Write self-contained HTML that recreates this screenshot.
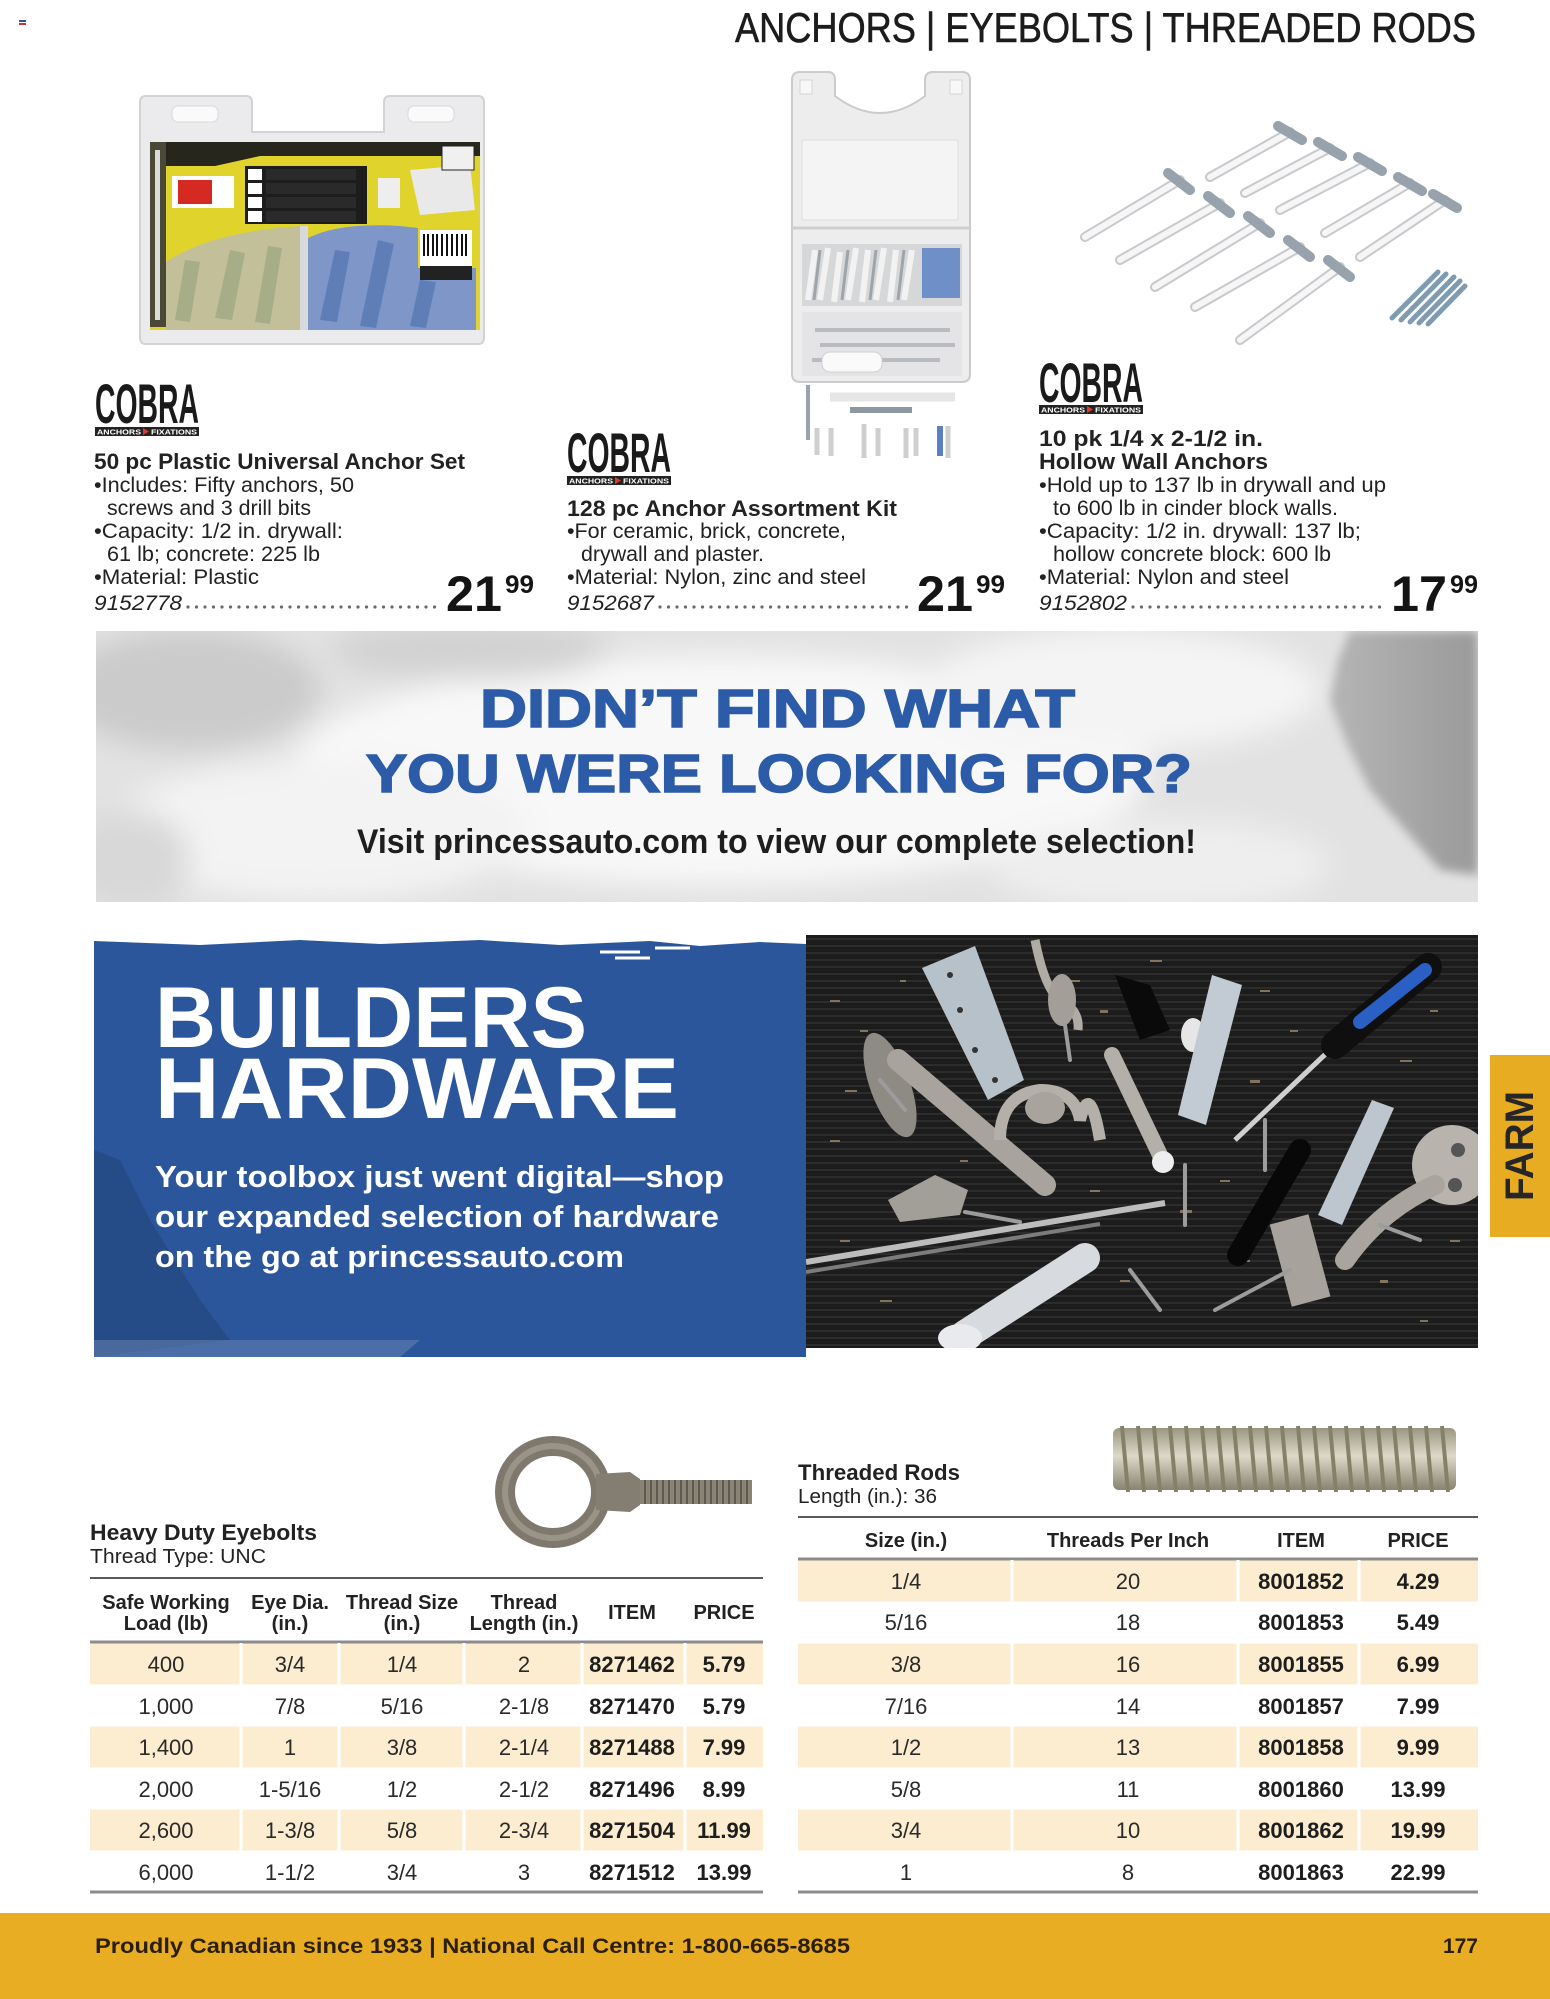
<!DOCTYPE html>
<html><head><meta charset="utf-8">
<style>
html,body{margin:0;padding:0;background:#fff;width:1550px;height:1999px;overflow:hidden}
svg{display:block}
text{font-family:"Liberation Sans",Arial,sans-serif}
</style></head><body>
<svg xmlns="http://www.w3.org/2000/svg" width="1550" height="1999" viewBox="0 0 1550 1999">
<defs>
 <filter id="bl" x="-30%" y="-30%" width="160%" height="160%"><feGaussianBlur stdDeviation="14"/></filter>
 <filter id="bl2" x="-30%" y="-30%" width="160%" height="160%"><feGaussianBlur stdDeviation="5"/></filter>
 <pattern id="rib" width="10" height="7" patternUnits="userSpaceOnUse"><rect width="10" height="7" fill="#1c1c1c"/><rect y="0" width="10" height="2" fill="#2c2c2c"/></pattern>
 <clipPath id="bannerClip"><rect x="96" y="631" width="1382" height="271"/></clipPath>
 <clipPath id="photoClip"><rect x="806" y="935" width="672" height="413"/></clipPath>
 <linearGradient id="rodg" x1="0" y1="0" x2="0" y2="1"><stop offset="0" stop-color="#9a9680"/><stop offset="0.45" stop-color="#dcd9c9"/><stop offset="1" stop-color="#878470"/></linearGradient>
 <linearGradient id="bannerDark" x1="0" y1="0" x2="1" y2="0"><stop offset="0" stop-color="#b5b5b5"/><stop offset="1" stop-color="#9a9a9a"/></linearGradient>
</defs>

<!-- tiny marks -->
<rect x="19" y="20" width="7" height="2" fill="#3050c0"/>
<rect x="19" y="23" width="7" height="2" fill="#d03030"/>

<!-- Header -->
<text x="735" y="42" font-size="42" textLength="741" lengthAdjust="spacingAndGlyphs" fill="#1c1c1c" stroke="#1c1c1c" stroke-width="0.6">ANCHORS | EYEBOLTS | THREADED RODS</text>

<!-- ===== Left package ===== -->
<g>
 <path d="M140 102 Q140 96 146 96 H246 Q252 96 252 102 V132 H384 V102 Q384 96 390 96 H478 Q484 96 484 102 V338 Q484 344 478 344 H146 Q140 344 140 338 Z" fill="#ebebed" stroke="#d3d3d6" stroke-width="2"/>
 <rect x="172" y="106" width="46" height="16" rx="6" fill="#fafafa" stroke="#d8d8d8"/>
 <rect x="408" y="106" width="46" height="16" rx="6" fill="#fafafa" stroke="#d8d8d8"/>
 <rect x="150" y="142" width="330" height="188" fill="#e0d42c"/>
 <path d="M150 142 H480 V156 H260 L215 166 H150 Z" fill="#26261c"/>
 <rect x="150" y="142" width="16" height="185" fill="#4a4936"/>
 <rect x="155" y="150" width="5" height="170" fill="#d9d9d9"/>
 <rect x="245" y="166" width="122" height="58" fill="#1d1d1d"/>
 <rect x="248" y="169" width="14" height="11" fill="#fff"/>
 <rect x="248" y="183" width="14" height="11" fill="#fff"/>
 <rect x="248" y="197" width="14" height="11" fill="#fff"/>
 <rect x="248" y="211" width="14" height="11" fill="#fff"/>
 <rect x="266" y="169" width="90" height="11" fill="#2a2a2a"/>
 <rect x="266" y="183" width="90" height="11" fill="#2a2a2a"/>
 <rect x="266" y="197" width="90" height="11" fill="#2a2a2a"/>
 <rect x="266" y="211" width="90" height="11" fill="#2a2a2a"/>
 <rect x="172" y="176" width="62" height="32" fill="#fff"/>
 <rect x="178" y="180" width="34" height="24" fill="#d42a22"/>
 <rect x="378" y="178" width="22" height="30" fill="#eee"/>
 <path d="M410 170 L470 165 L475 210 L420 215 Z" fill="#e9e9e9"/>
 <rect x="442" y="146" width="32" height="24" fill="#f0f0f0" stroke="#222"/>
 <path d="M166 330 V262 Q210 232 300 226 V330 Z" fill="#c3c099"/>
 <path d="M175 320 L185 260 L200 262 L190 322 Z M215 318 L230 250 L245 253 L232 320 Z M255 322 L268 246 L282 248 L270 324 Z" fill="#a7ad86"/>
 <rect x="300" y="226" width="8" height="104" fill="#d7d9dc"/>
 <path d="M308 330 V238 Q340 222 400 226 L418 228 V268 H476 V330 Z" fill="#7e97c8"/>
 <path d="M320 320 L335 250 L350 252 L337 322 Z M360 326 L378 240 L394 244 L376 328 Z M410 326 L420 280 L436 282 L426 328 Z" fill="#5f7eb8"/>
 <rect x="420" y="230" width="52" height="36" fill="#fff"/>
 <path d="M424 234 V256 M428 234 V256 M433 234 V256 M437 234 V256 M442 234 V256 M447 234 V256 M452 234 V256 M457 234 V256 M462 234 V256 M466 234 V256" stroke="#111" stroke-width="2"/>
 <rect x="420" y="266" width="52" height="14" fill="#222"/>
</g>

<!-- ===== Middle case ===== -->
<g>
 <path d="M792 80 Q792 72 800 72 H828 Q835 72 835 80 V96 Q880 130 925 96 V80 Q925 72 933 72 H962 Q970 72 970 80 V374 Q970 382 962 382 H800 Q792 382 792 374 Z" fill="#ededee" stroke="#cbcbcd" stroke-width="2"/>
 <rect x="800" y="80" width="12" height="14" fill="#f8f8f8" stroke="#d5d5d5"/>
 <rect x="950" y="80" width="12" height="14" fill="#f8f8f8" stroke="#d5d5d5"/>
 <rect x="802" y="140" width="156" height="80" fill="#f4f4f5" stroke="#dedee0"/>
 <line x1="792" y1="228" x2="970" y2="228" stroke="#cfcfd1" stroke-width="3"/>
 <rect x="802" y="244" width="160" height="62" fill="#d6d7d9"/>
 <path d="M808 300 L815 250 M820 300 L828 248 M834 302 L840 252 M848 300 L856 248 M862 302 L868 250 M876 300 L884 248 M890 302 L896 250 M904 300 L912 250" stroke="#f2f2f2" stroke-width="6"/>
 <path d="M814 300 L820 250 M842 300 L848 250 M870 300 L876 250 M898 300 L904 250" stroke="#9ea4aa" stroke-width="3"/>
 <rect x="922" y="248" width="38" height="50" fill="#6f8fc9"/>
 <rect x="802" y="312" width="160" height="64" fill="#e4e4e6"/>
 <path d="M815 330 H950 M820 345 H955 M812 360 H940" stroke="#b8bcc0" stroke-width="4"/>
 <rect x="822" y="352" width="60" height="20" rx="8" fill="#fafafa" stroke="#d0d0d0"/>
 <!-- bits below case -->
 <path d="M808 385 V440" stroke="#9aa4b0" stroke-width="4"/>
 <path d="M830 397 H955" stroke="#e6e6e6" stroke-width="9"/>
 <path d="M850 410 H912" stroke="#8e979f" stroke-width="6"/>
 <path d="M817 428 V455 M831 428 V456 M864 424 V458 M878 428 V456 M906 428 V458 M916 428 V456 M948 426 V458" stroke="#cfcfcf" stroke-width="5"/>
 <path d="M940 426 V456" stroke="#5b7fc4" stroke-width="6"/>
</g>

<!-- ===== Right hollow wall anchors ===== -->
<g stroke-linecap="round">
 <g stroke="#c7c9cc" stroke-width="10">
  <line x1="1290" y1="132" x2="1210" y2="177"/><line x1="1330" y1="148" x2="1245" y2="193"/><line x1="1370" y1="163" x2="1280" y2="210"/><line x1="1410" y1="183" x2="1325" y2="233"/><line x1="1445" y1="200" x2="1360" y2="257"/>
  <line x1="1180" y1="180" x2="1085" y2="237"/><line x1="1220" y1="203" x2="1120" y2="260"/><line x1="1260" y1="223" x2="1155" y2="287"/><line x1="1300" y1="247" x2="1195" y2="307"/><line x1="1340" y1="267" x2="1240" y2="340"/>
 </g>
 <g stroke="#f6f6f7" stroke-width="6">
  <line x1="1290" y1="132" x2="1210" y2="177"/><line x1="1330" y1="148" x2="1245" y2="193"/><line x1="1370" y1="163" x2="1280" y2="210"/><line x1="1410" y1="183" x2="1325" y2="233"/><line x1="1445" y1="200" x2="1360" y2="257"/>
  <line x1="1180" y1="180" x2="1085" y2="237"/><line x1="1220" y1="203" x2="1120" y2="260"/><line x1="1260" y1="223" x2="1155" y2="287"/><line x1="1300" y1="247" x2="1195" y2="307"/><line x1="1340" y1="267" x2="1240" y2="340"/>
 </g>
 <g stroke="#97a2ad" stroke-width="10">
  <line x1="1278" y1="126" x2="1302" y2="140"/><line x1="1318" y1="142" x2="1342" y2="156"/><line x1="1358" y1="157" x2="1382" y2="171"/><line x1="1398" y1="177" x2="1422" y2="191"/><line x1="1433" y1="194" x2="1457" y2="208"/>
  <line x1="1168" y1="173" x2="1190" y2="190"/><line x1="1208" y1="196" x2="1230" y2="213"/><line x1="1248" y1="216" x2="1270" y2="233"/><line x1="1288" y1="240" x2="1310" y2="257"/><line x1="1328" y1="260" x2="1350" y2="277"/>
 </g>
 <g stroke="#7f9bb2" stroke-width="5">
  <line x1="1392" y1="318" x2="1438" y2="272"/><line x1="1401" y1="320" x2="1446" y2="274"/><line x1="1410" y1="322" x2="1454" y2="277"/><line x1="1419" y1="323" x2="1460" y2="281"/><line x1="1428" y1="324" x2="1465" y2="286"/>
 </g>
</g>

<!-- ===== COBRA logos ===== -->
<g transform="translate(95,383)">
 <text x="0" y="40" font-size="56" font-weight="bold" textLength="104" lengthAdjust="spacingAndGlyphs" fill="#1a1a1a">COBRA</text>
 <rect x="0" y="44" width="104" height="9" fill="#222"/>
 <text x="2" y="51.5" font-size="7" font-weight="bold" fill="#fff" textLength="44" lengthAdjust="spacingAndGlyphs">ANCHORS</text>
 <path d="M48 45 L54 48.5 L48 52 Z" fill="#e03a2a"/>
 <text x="56" y="51.5" font-size="7" font-weight="bold" fill="#fff" textLength="46" lengthAdjust="spacingAndGlyphs">FIXATIONS</text>
</g>
<g transform="translate(567,432)">
 <text x="0" y="40" font-size="56" font-weight="bold" textLength="104" lengthAdjust="spacingAndGlyphs" fill="#1a1a1a">COBRA</text>
 <rect x="0" y="44" width="104" height="9" fill="#222"/>
 <text x="2" y="51.5" font-size="7" font-weight="bold" fill="#fff" textLength="44" lengthAdjust="spacingAndGlyphs">ANCHORS</text>
 <path d="M48 45 L54 48.5 L48 52 Z" fill="#e03a2a"/>
 <text x="56" y="51.5" font-size="7" font-weight="bold" fill="#fff" textLength="46" lengthAdjust="spacingAndGlyphs">FIXATIONS</text>
</g>
<g transform="translate(1039,362)">
 <text x="0" y="40" font-size="56" font-weight="bold" textLength="104" lengthAdjust="spacingAndGlyphs" fill="#1a1a1a">COBRA</text>
 <rect x="0" y="43" width="104" height="9" fill="#222"/>
 <text x="2" y="50.5" font-size="7" font-weight="bold" fill="#fff" textLength="44" lengthAdjust="spacingAndGlyphs">ANCHORS</text>
 <path d="M48 44 L54 47.5 L48 51 Z" fill="#e03a2a"/>
 <text x="56" y="50.5" font-size="7" font-weight="bold" fill="#fff" textLength="46" lengthAdjust="spacingAndGlyphs">FIXATIONS</text>
</g>

<!-- ===== Product text ===== -->
<g fill="#222" font-size="21" lengthAdjust="spacingAndGlyphs">
 <text x="94" y="469" font-size="22" font-weight="bold" textLength="371" lengthAdjust="spacingAndGlyphs">50 pc Plastic Universal Anchor Set</text>
 <text x="94" y="492" textLength="260" lengthAdjust="spacingAndGlyphs">•Includes: Fifty anchors, 50</text>
 <text x="107" y="515" textLength="204" lengthAdjust="spacingAndGlyphs">screws and 3 drill bits</text>
 <text x="94" y="538" textLength="249" lengthAdjust="spacingAndGlyphs">•Capacity: 1/2 in. drywall:</text>
 <text x="107" y="561" textLength="213" lengthAdjust="spacingAndGlyphs">61 lb; concrete: 225 lb</text>
 <text x="94" y="584" textLength="165" lengthAdjust="spacingAndGlyphs">•Material: Plastic</text>
 <text x="94" y="610" font-style="italic" textLength="88" lengthAdjust="spacingAndGlyphs">9152778</text>

 <text x="567" y="516" font-size="22" font-weight="bold" textLength="330" lengthAdjust="spacingAndGlyphs">128 pc Anchor Assortment Kit</text>
 <text x="567" y="538" textLength="279" lengthAdjust="spacingAndGlyphs">•For ceramic, brick, concrete,</text>
 <text x="581" y="561" textLength="183" lengthAdjust="spacingAndGlyphs">drywall and plaster.</text>
 <text x="567" y="584" textLength="299" lengthAdjust="spacingAndGlyphs">•Material: Nylon, zinc and steel</text>
 <text x="567" y="610" font-style="italic" textLength="87" lengthAdjust="spacingAndGlyphs">9152687</text>

 <text x="1039" y="446" font-size="22" font-weight="bold" textLength="224" lengthAdjust="spacingAndGlyphs">10 pk 1/4 x 2-1/2 in.</text>
 <text x="1039" y="469" font-size="22" font-weight="bold" textLength="229" lengthAdjust="spacingAndGlyphs">Hollow Wall Anchors</text>
 <text x="1039" y="492" textLength="347" lengthAdjust="spacingAndGlyphs">•Hold up to 137 lb in drywall and up</text>
 <text x="1053" y="515" textLength="285" lengthAdjust="spacingAndGlyphs">to 600 lb in cinder block walls.</text>
 <text x="1039" y="538" textLength="322" lengthAdjust="spacingAndGlyphs">•Capacity: 1/2 in. drywall: 137 lb;</text>
 <text x="1053" y="561" textLength="278" lengthAdjust="spacingAndGlyphs">hollow concrete block: 600 lb</text>
 <text x="1039" y="584" textLength="250" lengthAdjust="spacingAndGlyphs">•Material: Nylon and steel</text>
 <text x="1039" y="610" font-style="italic" textLength="88" lengthAdjust="spacingAndGlyphs">9152802</text>
</g>
<g stroke="#6a6a6a" stroke-width="3.2" stroke-linecap="round" stroke-dasharray="0 8.5">
 <line x1="188" y1="607" x2="440" y2="607"/>
 <line x1="660" y1="607" x2="911" y2="607"/>
 <line x1="1133" y1="607" x2="1384" y2="607"/>
</g>
<g fill="#141414" font-weight="bold">
 <text x="446" y="611" font-size="50" textLength="56" lengthAdjust="spacingAndGlyphs">21</text>
 <text x="505" y="593" font-size="25" textLength="29" lengthAdjust="spacingAndGlyphs">99</text>
 <text x="917" y="611" font-size="50" textLength="56" lengthAdjust="spacingAndGlyphs">21</text>
 <text x="976" y="593" font-size="25" textLength="29" lengthAdjust="spacingAndGlyphs">99</text>
 <text x="1391" y="611" font-size="50" textLength="56" lengthAdjust="spacingAndGlyphs">17</text>
 <text x="1450" y="593" font-size="25" textLength="28" lengthAdjust="spacingAndGlyphs">99</text>
</g>

<!-- ===== Banner ===== -->
<g clip-path="url(#bannerClip)">
 <rect x="96" y="631" width="1382" height="271" fill="#e2e2e2"/>
 <g filter="url(#bl)">
  <ellipse cx="720" cy="770" rx="430" ry="115" fill="#f8f8f8"/>
  <ellipse cx="320" cy="830" rx="210" ry="70" fill="#f3f3f3"/>
  <ellipse cx="190" cy="690" rx="130" ry="60" fill="#cbcbcb"/>
  <ellipse cx="470" cy="650" rx="140" ry="30" fill="#d2d2d2"/>
  <ellipse cx="1120" cy="690" rx="200" ry="60" fill="#f4f4f4"/>
  <ellipse cx="1160" cy="865" rx="170" ry="45" fill="#eeeeee"/>
  <ellipse cx="130" cy="860" rx="60" ry="50" fill="#d8d8d8"/>
 </g>
 <path d="M1350 631 H1478 V875 L1440 870 L1405 830 L1370 790 L1345 740 L1330 700 L1338 660 Z" fill="url(#bannerDark)" filter="url(#bl2)"/>
</g>
<text x="480" y="727" font-size="54" font-weight="bold" textLength="595" lengthAdjust="spacingAndGlyphs" fill="#2c5ba8" stroke="#2c5ba8" stroke-width="1.6">DIDN’T FIND WHAT</text>
<text x="366" y="792" font-size="54" font-weight="bold" textLength="826" lengthAdjust="spacingAndGlyphs" fill="#2c5ba8" stroke="#2c5ba8" stroke-width="1.6">YOU WERE LOOKING FOR?</text>
<text x="357" y="853" font-size="34" font-weight="bold" textLength="839" lengthAdjust="spacingAndGlyphs" fill="#1e1e1e">Visit princessauto.com to view our complete selection!</text>

<!-- ===== Builders hardware blue panel ===== -->
<rect x="94" y="938" width="712" height="419" fill="#2c569c"/>
<path d="M94 1150 L120 1160 L150 1220 L175 1260 L200 1300 L230 1340 L94 1357 Z" fill="#23487f" opacity="0.7"/>
<path d="M94 1340 H420 L400 1357 H94 Z" fill="#6b86b3" opacity="0.5"/>
<path d="M94 932 H806 V944 L760 942 L700 946 L650 941 L560 945 L480 940 L380 944 L300 940 L200 945 L94 941 Z" fill="#fff"/>
<path d="M600 952 H640 M655 948 H690 M615 958 H650" stroke="#fff" stroke-width="3"/>
<text x="155" y="1047" font-size="86" font-weight="bold" textLength="432" lengthAdjust="spacingAndGlyphs" fill="#fff">BUILDERS</text>
<text x="155" y="1118" font-size="86" font-weight="bold" textLength="524" lengthAdjust="spacingAndGlyphs" fill="#fff">HARDWARE</text>
<text x="155" y="1187" font-size="31" font-weight="bold" textLength="569" lengthAdjust="spacingAndGlyphs" fill="#fff">Your toolbox just went digital—shop</text>
<text x="155" y="1227" font-size="31" font-weight="bold" textLength="564" lengthAdjust="spacingAndGlyphs" fill="#fff">our expanded selection of hardware</text>
<text x="155" y="1267" font-size="31" font-weight="bold" textLength="469" lengthAdjust="spacingAndGlyphs" fill="#fff">on the go at princessauto.com</text>

<!-- ===== Photo ===== -->
<g clip-path="url(#photoClip)">
 <rect x="806" y="935" width="672" height="413" fill="url(#rib)"/>
 <!-- sawdust -->
 <g fill="#9b8a6a" opacity="0.8">
  <rect x="830" y="1000" width="10" height="2"/><rect x="860" y="1030" width="8" height="2"/><rect x="845" y="1090" width="12" height="2"/><rect x="900" y="980" width="6" height="2"/><rect x="1070" y="980" width="10" height="2"/><rect x="1100" y="1010" width="8" height="3"/><rect x="1150" y="960" width="12" height="2"/><rect x="1260" y="990" width="10" height="2"/><rect x="1290" y="1030" width="8" height="2"/><rect x="1250" y="1080" width="10" height="3"/><rect x="1400" y="1060" width="12" height="2"/><rect x="1430" y="1010" width="8" height="2"/><rect x="1220" y="1180" width="10" height="2"/><rect x="1180" y="1210" width="12" height="3"/><rect x="1120" y="1280" width="10" height="2"/><rect x="1300" y="1300" width="10" height="2"/><rect x="1380" y="1280" width="8" height="3"/><rect x="880" y="1300" width="12" height="2"/><rect x="840" y="1240" width="10" height="2"/><rect x="1050" y="1230" width="8" height="2"/><rect x="1000" y="1040" width="6" height="2"/><rect x="1240" y="1260" width="10" height="2"/><rect x="960" y="1160" width="8" height="2"/><rect x="1140" y="1130" width="10" height="2"/><rect x="1350" y="1160" width="8" height="2"/><rect x="1450" y="1240" width="10" height="2"/><rect x="1420" y="1320" width="8" height="2"/><rect x="830" y="1140" width="10" height="2"/><rect x="1200" y="1040" width="8" height="2"/><rect x="1090" y="1190" width="10" height="2"/>
 </g>
 <!-- hinge plate -->
 <path d="M922 968 L975 946 L1024 1080 L988 1100 Z" fill="#b7c1c9"/>
 <circle cx="950" cy="975" r="3" fill="#333"/><circle cx="960" cy="1010" r="3" fill="#333"/><circle cx="975" cy="1050" r="3" fill="#333"/><circle cx="995" cy="1080" r="3" fill="#333"/>
 <!-- top hook -->
 <path d="M1035 940 Q1045 990 1060 1000 Q1080 1010 1078 1030" stroke="#b0aca5" stroke-width="9" fill="none"/>
 <ellipse cx="1062" cy="1000" rx="14" ry="26" fill="#a39f98"/>
 <!-- black latch -->
 <path d="M1115 975 L1150 985 L1170 1030 L1140 1040 Z" fill="#0a0a0a"/>
 <ellipse cx="1193" cy="1035" rx="12" ry="17" fill="#e6e6e6"/>
 <!-- left oval plate + handle -->
 <ellipse cx="890" cy="1085" rx="20" ry="55" fill="#8e8a84" transform="rotate(-20 890 1085)"/>
 <line x1="898" y1="1060" x2="1045" y2="1185" stroke="#a8a49d" stroke-width="22" stroke-linecap="round"/>
 <!-- middle hook -->
 <path d="M1000 1140 Q1000 1095 1040 1090 Q1075 1090 1080 1120 Q1090 1080 1100 1140" stroke="#b4b0a9" stroke-width="12" fill="none"/>
 <ellipse cx="1045" cy="1108" rx="20" ry="16" fill="#a8a49d"/>
 <!-- door stop middle -->
 <line x1="1112" y1="1055" x2="1160" y2="1155" stroke="#b3afa9" stroke-width="16" stroke-linecap="round"/>
 <circle cx="1163" cy="1162" r="11" fill="#eeeeee"/>
 <!-- angle bracket -->
 <path d="M1212 975 L1242 985 L1206 1125 L1178 1115 Z" fill="#c2cbd3"/>
 <!-- screwdriver -->
 <line x1="1235" y1="1140" x2="1335" y2="1045" stroke="#cfcfcf" stroke-width="5"/>
 <line x1="1335" y1="1045" x2="1428" y2="967" stroke="#0f0f0f" stroke-width="28" stroke-linecap="round"/>
 <line x1="1360" y1="1022" x2="1425" y2="970" stroke="#2a5fc4" stroke-width="14" stroke-linecap="round"/>
 <!-- right bracket -->
 <path d="M1372 1100 L1394 1108 L1342 1225 L1318 1215 Z" fill="#bdc6ce"/>
 <!-- big right hook -->
 <circle cx="1452" cy="1165" r="40" fill="#b8b4ad"/>
 <circle cx="1458" cy="1150" r="7" fill="#555"/><circle cx="1455" cy="1185" r="7" fill="#555"/>
 <path d="M1435 1185 Q1380 1210 1345 1260" stroke="#a9a59e" stroke-width="20" fill="none" stroke-linecap="round"/>
 <rect x="1280" y="1218" width="40" height="85" fill="#a7a39c" transform="rotate(-15 1300 1260)"/>
 <!-- black spring stop -->
 <line x1="1238" y1="1255" x2="1300" y2="1150" stroke="#080808" stroke-width="22" stroke-linecap="round"/>
 <!-- white door stop bottom -->
 <line x1="965" y1="1335" x2="1085" y2="1258" stroke="#d7dade" stroke-width="30" stroke-linecap="round"/>
 <ellipse cx="960" cy="1338" rx="22" ry="14" fill="#e8eaed"/>
 <!-- long rod -->
 <line x1="806" y1="1262" x2="1165" y2="1203" stroke="#bdbdbd" stroke-width="6"/>
 <line x1="806" y1="1272" x2="1100" y2="1224" stroke="#7c7c7c" stroke-width="4"/>
 <!-- small plate -->
 <path d="M888 1200 L935 1175 L968 1190 L960 1215 L900 1222 Z" fill="#a29e98"/>
 <!-- screws -->
 <g stroke="#9c9c9c" stroke-width="4" stroke-linecap="round">
  <line x1="1020" y1="1222" x2="965" y2="1212"/><line x1="1185" y1="1165" x2="1185" y2="1225"/><line x1="1265" y1="1120" x2="1265" y2="1170"/><line x1="1130" y1="1270" x2="1160" y2="1310"/><line x1="1215" y1="1310" x2="1290" y2="1270"/><line x1="1380" y1="1225" x2="1420" y2="1240"/><line x1="905" y1="1110" x2="880" y2="1080"/><line x1="1065" y1="1025" x2="1070" y2="1060"/>
 </g>
</g>

<!-- FARM tab -->
<rect x="1490" y="1055" width="60" height="182" fill="#e8ac22"/>
<text transform="translate(1533,1201) rotate(-90)" font-size="40" font-weight="bold" fill="#262626" textLength="110" lengthAdjust="spacingAndGlyphs">FARM</text>

<!-- ===== Eyebolt image ===== -->
<g>
 <ellipse cx="553" cy="1492" rx="48" ry="46" fill="none" stroke="#7e786d" stroke-width="20"/>
 <ellipse cx="553" cy="1492" rx="48" ry="46" fill="none" stroke="#9a9488" stroke-width="6"/>
 <path d="M596 1474 L630 1472 L640 1479 V1505 L630 1512 L596 1510 Z" fill="#837d72"/>
 <rect x="640" y="1480" width="112" height="24" fill="#8a8477"/>
 <path d="M645 1480 V1504 M651 1480 V1504 M657 1480 V1504 M663 1480 V1504 M669 1480 V1504 M675 1480 V1504 M681 1480 V1504 M687 1480 V1504 M693 1480 V1504 M699 1480 V1504 M705 1480 V1504 M711 1480 V1504 M717 1480 V1504 M723 1480 V1504 M729 1480 V1504 M735 1480 V1504 M741 1480 V1504 M747 1480 V1504" stroke="#5f5a50" stroke-width="2"/>
</g>

<!-- ===== Rod image ===== -->
<g>
 <rect x="1113" y="1428" width="343" height="62" rx="6" fill="url(#rodg)"/>
 <path d="M1122 1426 l6 66 M1138 1426 l6 66 M1154 1426 l6 66 M1170 1426 l6 66 M1186 1426 l6 66 M1202 1426 l6 66 M1218 1426 l6 66 M1234 1426 l6 66 M1250 1426 l6 66 M1266 1426 l6 66 M1282 1426 l6 66 M1298 1426 l6 66 M1314 1426 l6 66 M1330 1426 l6 66 M1346 1426 l6 66 M1362 1426 l6 66 M1378 1426 l6 66 M1394 1426 l6 66 M1410 1426 l6 66 M1426 1426 l6 66 M1442 1426 l6 66" stroke="#858169" stroke-width="4"/>
</g>

<!-- ===== Eyebolt table ===== -->
<g fill="#222">
 <text x="90" y="1540" font-size="22" font-weight="bold" textLength="227" lengthAdjust="spacingAndGlyphs">Heavy Duty Eyebolts</text>
 <text x="90" y="1563" font-size="20" textLength="176" lengthAdjust="spacingAndGlyphs">Thread Type: UNC</text>
</g>
<line x1="90" y1="1578" x2="763" y2="1578" stroke="#5a5a5a" stroke-width="2"/>
<g fill="#222" font-size="20" font-weight="bold" text-anchor="middle">
 <text x="166" y="1609">Safe Working</text><text x="166" y="1630">Load (lb)</text>
 <text x="290" y="1609">Eye Dia.</text><text x="290" y="1630">(in.)</text>
 <text x="402" y="1609">Thread Size</text><text x="402" y="1630">(in.)</text>
 <text x="524" y="1609">Thread</text><text x="524" y="1630">Length (in.)</text>
 <text x="632" y="1619">ITEM</text>
 <text x="724" y="1619">PRICE</text>
</g>
<line x1="90" y1="1642" x2="763" y2="1642" stroke="#8c8c8c" stroke-width="3"/>
<g fill="#fcecd0">
 <rect x="90" y="1643.5" width="673" height="41"/>
 <rect x="90" y="1726.5" width="673" height="41"/>
 <rect x="90" y="1809.5" width="673" height="41"/>
</g>
<g stroke="#fff" stroke-width="3">
 <path d="M241 1643 V1685 M339 1643 V1685 M464 1643 V1685 M582 1643 V1685 M685 1643 V1685"/>
 <path d="M241 1726 V1768 M339 1726 V1768 M464 1726 V1768 M582 1726 V1768 M685 1726 V1768"/>
 <path d="M241 1809 V1851 M339 1809 V1851 M464 1809 V1851 M582 1809 V1851 M685 1809 V1851"/>
</g>
<g fill="#2a2a2a" font-size="22" text-anchor="middle">
 <text x="166" y="1672">400</text><text x="290" y="1672">3/4</text><text x="402" y="1672">1/4</text><text x="524" y="1672">2</text>
 <text x="166" y="1714">1,000</text><text x="290" y="1714">7/8</text><text x="402" y="1714">5/16</text><text x="524" y="1714">2-1/8</text>
 <text x="166" y="1755">1,400</text><text x="290" y="1755">1</text><text x="402" y="1755">3/8</text><text x="524" y="1755">2-1/4</text>
 <text x="166" y="1797">2,000</text><text x="290" y="1797">1-5/16</text><text x="402" y="1797">1/2</text><text x="524" y="1797">2-1/2</text>
 <text x="166" y="1838">2,600</text><text x="290" y="1838">1-3/8</text><text x="402" y="1838">5/8</text><text x="524" y="1838">2-3/4</text>
 <text x="166" y="1880">6,000</text><text x="290" y="1880">1-1/2</text><text x="402" y="1880">3/4</text><text x="524" y="1880">3</text>
</g>
<g fill="#1e1e1e" font-size="22" font-weight="bold" text-anchor="middle">
 <text x="632" y="1672">8271462</text><text x="724" y="1672">5.79</text>
 <text x="632" y="1714">8271470</text><text x="724" y="1714">5.79</text>
 <text x="632" y="1755">8271488</text><text x="724" y="1755">7.99</text>
 <text x="632" y="1797">8271496</text><text x="724" y="1797">8.99</text>
 <text x="632" y="1838">8271504</text><text x="724" y="1838">11.99</text>
 <text x="632" y="1880">8271512</text><text x="724" y="1880">13.99</text>
</g>
<line x1="90" y1="1892" x2="763" y2="1892" stroke="#8c8c8c" stroke-width="3"/>

<!-- ===== Threaded rods table ===== -->
<g fill="#222">
 <text x="798" y="1480" font-size="22" font-weight="bold" textLength="162" lengthAdjust="spacingAndGlyphs">Threaded Rods</text>
 <text x="798" y="1503" font-size="20" textLength="139" lengthAdjust="spacingAndGlyphs">Length (in.): 36</text>
</g>
<line x1="798" y1="1517" x2="1478" y2="1517" stroke="#5a5a5a" stroke-width="2"/>
<g fill="#222" font-size="20" font-weight="bold" text-anchor="middle">
 <text x="906" y="1547">Size (in.)</text>
 <text x="1128" y="1547">Threads Per Inch</text>
 <text x="1301" y="1547">ITEM</text>
 <text x="1418" y="1547">PRICE</text>
</g>
<line x1="798" y1="1559" x2="1478" y2="1559" stroke="#8c8c8c" stroke-width="3"/>
<g fill="#fcecd0">
 <rect x="798" y="1560.5" width="680" height="41"/>
 <rect x="798" y="1643.5" width="680" height="41"/>
 <rect x="798" y="1726.5" width="680" height="41"/>
 <rect x="798" y="1809.5" width="680" height="41"/>
</g>
<g stroke="#fff" stroke-width="3">
 <path d="M1012 1560 V1602 M1238 1560 V1602 M1359 1560 V1602"/>
 <path d="M1012 1643 V1685 M1238 1643 V1685 M1359 1643 V1685"/>
 <path d="M1012 1726 V1768 M1238 1726 V1768 M1359 1726 V1768"/>
 <path d="M1012 1809 V1851 M1238 1809 V1851 M1359 1809 V1851"/>
</g>
<g fill="#2a2a2a" font-size="22" text-anchor="middle">
 <text x="906" y="1589">1/4</text><text x="1128" y="1589">20</text>
 <text x="906" y="1630">5/16</text><text x="1128" y="1630">18</text>
 <text x="906" y="1672">3/8</text><text x="1128" y="1672">16</text>
 <text x="906" y="1714">7/16</text><text x="1128" y="1714">14</text>
 <text x="906" y="1755">1/2</text><text x="1128" y="1755">13</text>
 <text x="906" y="1797">5/8</text><text x="1128" y="1797">11</text>
 <text x="906" y="1838">3/4</text><text x="1128" y="1838">10</text>
 <text x="906" y="1880">1</text><text x="1128" y="1880">8</text>
</g>
<g fill="#1e1e1e" font-size="22" font-weight="bold" text-anchor="middle">
 <text x="1301" y="1589">8001852</text><text x="1418" y="1589">4.29</text>
 <text x="1301" y="1630">8001853</text><text x="1418" y="1630">5.49</text>
 <text x="1301" y="1672">8001855</text><text x="1418" y="1672">6.99</text>
 <text x="1301" y="1714">8001857</text><text x="1418" y="1714">7.99</text>
 <text x="1301" y="1755">8001858</text><text x="1418" y="1755">9.99</text>
 <text x="1301" y="1797">8001860</text><text x="1418" y="1797">13.99</text>
 <text x="1301" y="1838">8001862</text><text x="1418" y="1838">19.99</text>
 <text x="1301" y="1880">8001863</text><text x="1418" y="1880">22.99</text>
</g>
<line x1="798" y1="1892" x2="1478" y2="1892" stroke="#8c8c8c" stroke-width="3"/>

<!-- ===== Footer ===== -->
<rect x="0" y="1913" width="1550" height="86" fill="#e9ad23"/>
<text x="95" y="1953" font-size="21" font-weight="bold" fill="#2a1f0e" textLength="755" lengthAdjust="spacingAndGlyphs">Proudly Canadian since 1933 | National Call Centre: 1-800-665-8685</text>
<text x="1478" y="1953" font-size="21" font-weight="bold" fill="#2a1f0e" text-anchor="end">177</text>
</svg>
</body></html>
